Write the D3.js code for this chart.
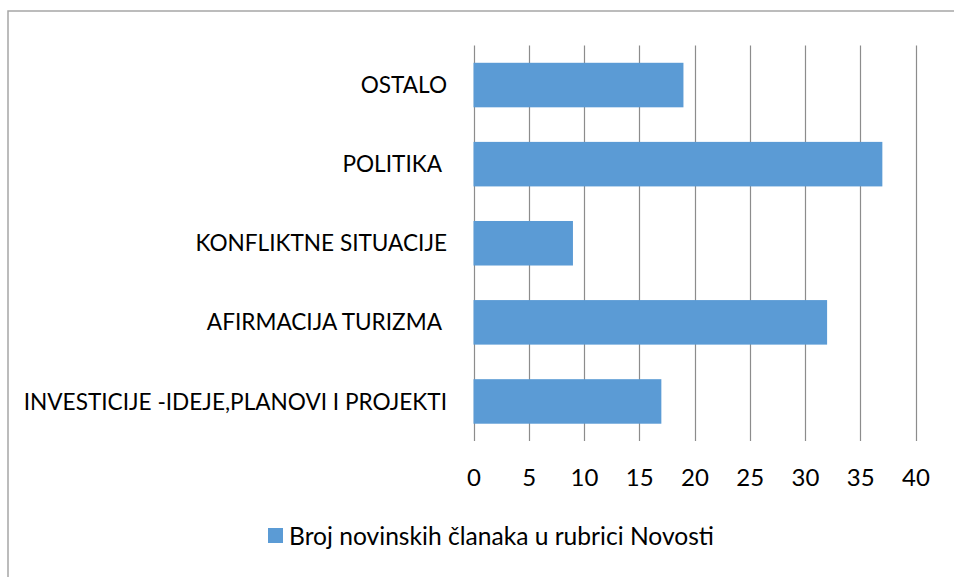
<!DOCTYPE html>
<html>
<head>
<meta charset="utf-8">
<script src="https://cdn.jsdelivr.net/npm/d3@7"></script>
<style>
  body { margin: 0; background: #fff; }
  svg text { font-family: Lato, "Open Sans", sans-serif; fill: #000; white-space: pre; }
</style>
</head>
<body>
<svg width="954" height="577"></svg>
<script>
// categories, bottom to top as in the picture
var categories = [
    "INVESTICIJE -IDEJE,PLANOVI I PROJEKTI",
    "AFIRMACIJA TURIZMA ",
    "KONFLIKTNE SITUACIJE",
    "POLITIKA ",
    "OSTALO"
];
var values = [17, 32, 9, 37, 19];
var tickValues = [0, 5, 10, 15, 20, 25, 30, 35, 40];
var seriesName = "Broj novinskih članaka u rubrici Novosti";

var data = categories.map(function (c, i) { return { cat: c, value: values[i] }; });

var svg = d3.select("svg");

// outer frame
svg.append("rect")
    .attr("x", 8)
    .attr("y", 11)
    .attr("width", 960)
    .attr("height", 600)
    .attr("fill", "none")
    .attr("stroke", "#a6a6a6")
    .attr("stroke-width", 1.5);

var plotLeft = 473.5, plotRight = 915.5, plotTop = 45.5, plotBottom = 441;

var xScale = d3.scaleLinear()
    .domain([0, 40])
    .range([plotLeft, plotRight]);

// top category first
var yScale = d3.scaleBand()
    .domain(categories.slice().reverse())
    .range([plotTop, plotBottom])
    .paddingInner(0.437)
    .paddingOuter(0.2185);

// vertical gridlines
svg.append("g")
    .selectAll("line")
    .data(tickValues)
    .enter()
    .append("line")
    .attr("x1", function (d) { return Math.round(xScale(d)) + 0.5; })
    .attr("x2", function (d) { return Math.round(xScale(d)) + 0.5; })
    .attr("y1", plotTop)
    .attr("y2", plotBottom)
    .attr("stroke", "#8c8c8c")
    .attr("stroke-width", 1.2);

// x axis labels
var xAxis = d3.axisBottom(xScale)
    .tickValues(tickValues)
    .tickSize(0)
    .tickPadding(0);

var gx = svg.append("g")
    .attr("transform", "translate(0," + 486 + ")")
    .call(xAxis);
gx.select(".domain").remove();
gx.selectAll("text")
    .attr("dy", 0)
    .attr("y", 0)
    .attr("font-size", "24px")
    .style("font-family", "Lato, 'Open Sans', sans-serif");

// bars
svg.append("g")
    .selectAll("rect")
    .data(data)
    .enter()
    .append("rect")
    .attr("x", xScale(0))
    .attr("y", function (d) { return yScale(d.cat); })
    .attr("width", function (d) { return xScale(d.value) - xScale(0); })
    .attr("height", yScale.bandwidth())
    .attr("fill", "#5b9bd5");

// category labels
svg.append("g")
    .selectAll("text")
    .data(data)
    .enter()
    .append("text")
    .attr("x", 447)
    .attr("y", function (d) { return yScale(d.cat) + yScale.bandwidth() / 2; })
    .attr("dy", "0.36em")
    .attr("text-anchor", "end")
    .attr("font-size", "22.6px")
    .text(function (d) { return d.cat; });

// legend
svg.append("rect")
    .attr("x", 268)
    .attr("y", 528)
    .attr("width", 15)
    .attr("height", 15)
    .attr("fill", "#5b9bd5");

svg.append("text")
    .attr("x", 289)
    .attr("y", 545)
    .attr("font-size", "24.6px")
    .text(seriesName);
</script>
</body>
</html>
